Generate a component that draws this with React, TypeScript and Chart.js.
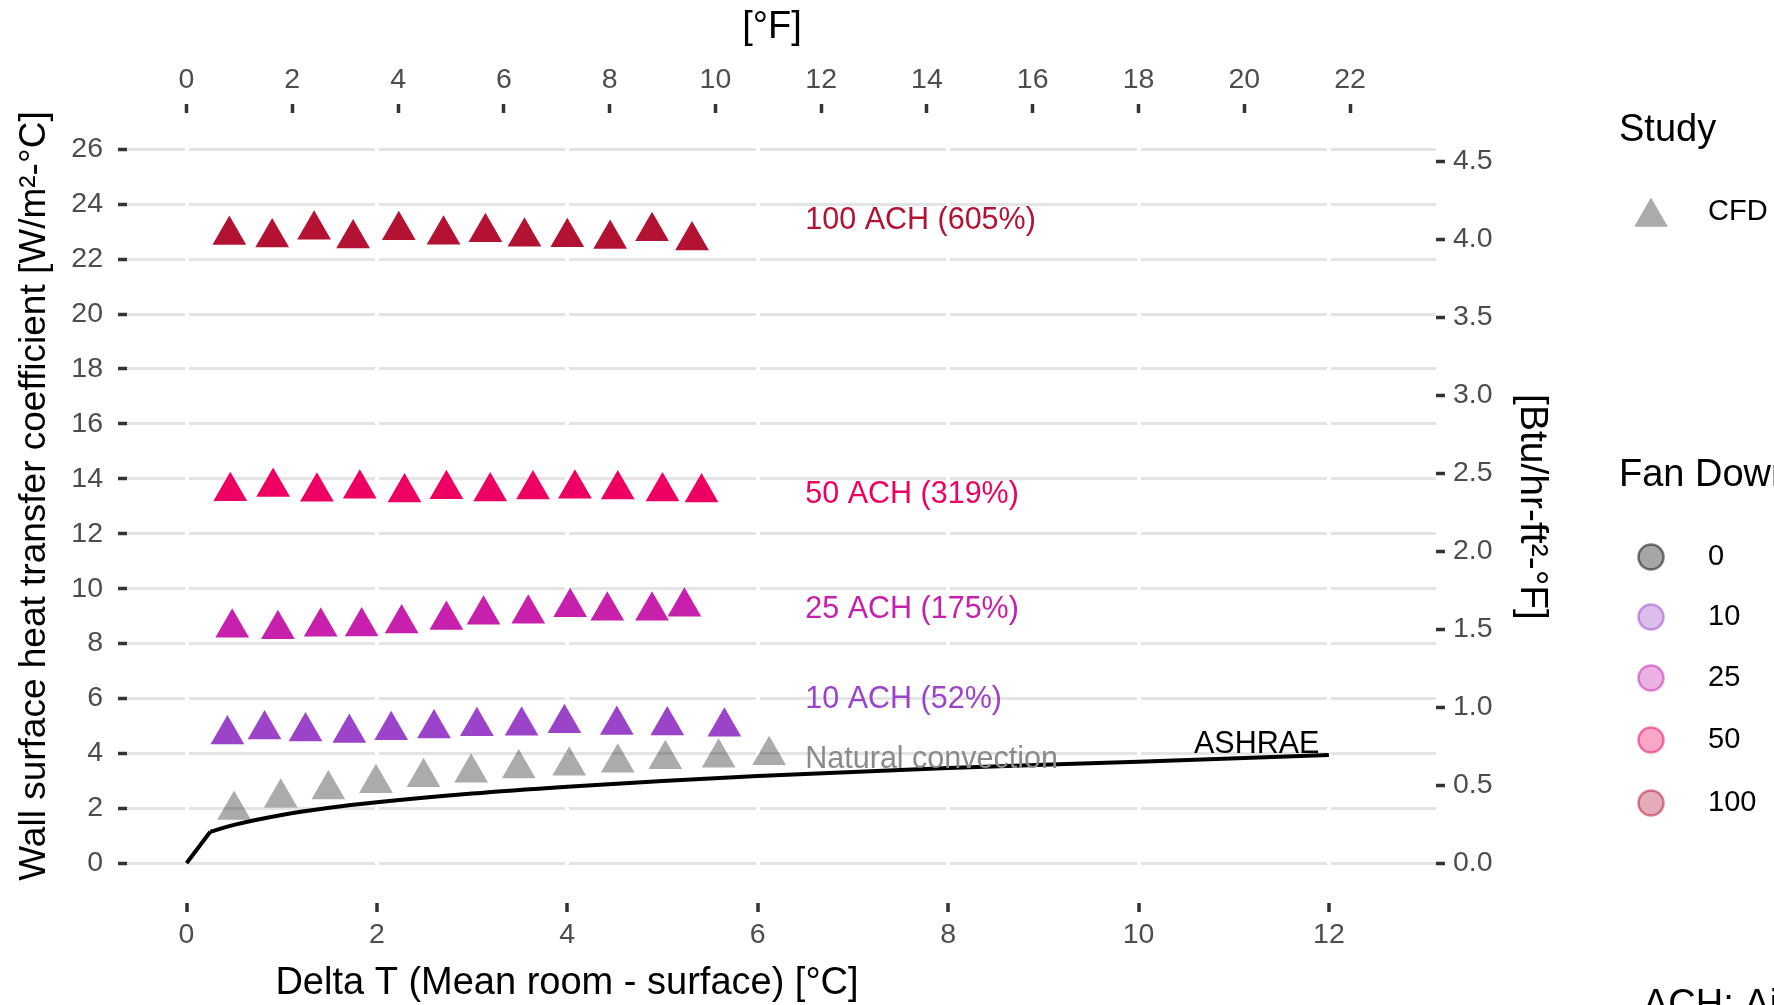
import React, { useEffect, useRef } from 'react';
import { Chart, registerables } from 'chart.js';
Chart.register(...registerables);

const W = 1774;
const H = 1005;
const FONT = '"Liberation Sans", Arial, Helvetica, sans-serif';

// ---- data (Delta T in °C, h in W/m²-°C) ----
const ach100X = [0.45, 0.90, 1.34, 1.75, 2.23, 2.70, 3.14, 3.55, 4.00, 4.45, 4.89, 5.31];
const ach100Y = [22.88, 22.79, 23.07, 22.75, 23.05, 22.89, 22.98, 22.81, 22.80, 22.73, 23.01, 22.68];
const ach50X = [0.46, 0.91, 1.37, 1.82, 2.29, 2.73, 3.19, 3.64, 4.08, 4.53, 5.00, 5.41];
const ach50Y = [13.55, 13.70, 13.53, 13.64, 13.50, 13.62, 13.54, 13.61, 13.64, 13.61, 13.54, 13.50];
const ach25X = [0.48, 0.96, 1.41, 1.84, 2.26, 2.73, 3.12, 3.59, 4.03, 4.42, 4.89, 5.23];
const ach25Y = [8.58, 8.52, 8.61, 8.62, 8.73, 8.86, 9.05, 9.09, 9.32, 9.20, 9.20, 9.34];
const ach10X = [0.43, 0.82, 1.25, 1.71, 2.15, 2.60, 3.05, 3.52, 3.97, 4.52, 5.05, 5.65];
const ach10Y = [4.69, 4.87, 4.80, 4.74, 4.84, 4.91, 4.99, 5.01, 5.10, 5.04, 5.02, 4.97];
const naturalX = [0.50, 0.99, 1.49, 1.99, 2.49, 2.99, 3.49, 4.02, 4.53, 5.03, 5.59, 6.12];
const naturalY = [1.94, 2.39, 2.69, 2.91, 3.13, 3.30, 3.45, 3.55, 3.66, 3.79, 3.84, 3.93];

const ashraeStartX = [0, 0.25];
const ashraeStartY = [0, 1.15];
const ashraeX = [0.25, 0.5, 1, 1.5, 2, 3, 4, 5, 6, 8, 10, 12];
const ashraeY = [1.15, 1.40, 1.76, 2.02, 2.22, 2.54, 2.79, 3.00, 3.18, 3.47, 3.70, 3.94];

const seriesColors = ['#b31233', '#ed0062', '#c620ad', '#9b44ca', 'rgba(0,0,0,0.33)'];

// annotations
const labelTexts = ['100 ACH (605%)', '50 ACH (319%)', '25 ACH (175%)', '10 ACH (52%)', 'Natural convection', 'ASHRAE'];
const labelX = [6.5, 6.5, 6.5, 6.5, 6.5, 11.9];
const labelY = [23.39, 13.41, 9.25, 5.96, 3.79, 4.32];
const labelColors = ['#b31233', '#ed0062', '#c620ad', '#9b44ca', '#8a8a8a', '#000000'];
const labelAlign = ['left', 'left', 'left', 'left', 'left', 'right'];

// ticks
const xTicks = [0, 2, 4, 6, 8, 10, 12];
const x2Ticks = [0, 2, 4, 6, 8, 10, 12, 14, 16, 18, 20, 22];
const yTicks = [0, 2, 4, 6, 8, 10, 12, 14, 16, 18, 20, 22, 24, 26];
const y2Ticks = [0, 0.5, 1, 1.5, 2, 2.5, 3, 3.5, 4, 4.5];

// legend
const studyLabels = ['CFD'];
const fanLevels = ['0', '10', '25', '50', '100'];
const fanLevelColors = [[0, 0, 0], [155, 68, 202], [198, 32, 173], [237, 0, 98], [179, 18, 51]];

const X_MIN = -0.625;
const X_MAX = 13.125;
const Y_MIN = -1.446;
const Y_MAX = 27.32;
const C_TO_F = 1.8;
const W_TO_BTU = 1 / 5.678;

const pts = (xs: number[], ys: number[]) => xs.map((x, i) => ({ x, y: ys[i] }));

function drawTri(ctx: CanvasRenderingContext2D, x: number, y: number, r: number, color: string) {
  ctx.beginPath();
  for (let k = 0; k < 3; k++) {
    const a = (k * 2 * Math.PI) / 3;
    const px = x + Math.sin(a) * r;
    const py = y - Math.cos(a) * r;
    if (k === 0) ctx.moveTo(px, py);
    else ctx.lineTo(px, py);
  }
  ctx.closePath();
  ctx.fillStyle = color;
  ctx.fill();
}

const textPlugin = {
  id: 'textPlugin',
  afterDatasetsDraw(chart: any) {
    const { ctx, scales } = chart;
    const xs = scales.x;
    const ys = scales.y;
    ctx.save();
    ctx.font = `30.5px ${FONT}`;
    ctx.textBaseline = 'middle';
    for (let i = 0; i < labelTexts.length; i++) {
      ctx.fillStyle = labelColors[i];
      ctx.textAlign = labelAlign[i] as CanvasTextAlign;
      ctx.fillText(labelTexts[i], xs.getPixelForValue(labelX[i]), ys.getPixelForValue(labelY[i]));
    }
    ctx.restore();
  },
  afterDraw(chart: any) {
    const { ctx } = chart;
    ctx.save();
    ctx.fillStyle = '#000';
    ctx.textBaseline = 'alphabetic';
    ctx.font = `38px ${FONT}`;
    ctx.textAlign = 'center';
    ctx.fillText('Delta T (Mean room - surface) [°C]', 567, 994);
    ctx.fillText('[°F]', 772, 38);

    ctx.save();
    ctx.translate(45, 496);
    ctx.rotate(-Math.PI / 2);
    ctx.font = `37px ${FONT}`;
    ctx.fillText('Wall surface heat transfer coefficient [W/m²-°C]', 0, 0);
    ctx.restore();

    ctx.save();
    ctx.translate(1521, 507);
    ctx.rotate(Math.PI / 2);
    ctx.font = `39px ${FONT}`;
    ctx.fillText('[Btu/hr-ft²-°F]', 0, 0);
    ctx.restore();

    // legend: Study
    ctx.textAlign = 'left';
    ctx.fillStyle = '#000';
    ctx.font = `38px ${FONT}`;
    ctx.fillText('Study', 1619, 141);
    drawTri(ctx, 1651, 217, 19.5, seriesColors[4]);
    ctx.fillStyle = '#000';
    ctx.font = `29px ${FONT}`;
    ctx.textBaseline = 'middle';
    ctx.fillText(studyLabels[0], 1708, 212);

    // legend: Fan
    ctx.textBaseline = 'alphabetic';
    ctx.font = `38px ${FONT}`;
    ctx.fillStyle = '#000';
    ctx.fillText('Fan Down ACH', 1619, 486);
    const ys = [557, 617, 678, 740, 803];
    ctx.font = `29px ${FONT}`;
    ctx.textBaseline = 'middle';
    for (let i = 0; i < fanLevels.length; i++) {
      const [r, g, b] = fanLevelColors[i];
      ctx.beginPath();
      ctx.arc(1651, ys[i], 12.5, 0, Math.PI * 2);
      ctx.fillStyle = `rgba(${r},${g},${b},0.35)`;
      ctx.fill();
      ctx.lineWidth = 2.5;
      ctx.strokeStyle = `rgba(${r},${g},${b},0.5)`;
      ctx.stroke();
      ctx.fillStyle = '#000';
      ctx.fillText(fanLevels[i], 1708, ys[i]);
    }

    ctx.textBaseline = 'alphabetic';
    ctx.font = `38px ${FONT}`;
    ctx.fillStyle = '#000';
    ctx.fillText('ACH: Air changes per hour', 1643, 1016);
    ctx.restore();
  },
};

const tickFont = { family: FONT, size: 28.5 };
const tickColor = '#4d4d4d';
const markColor = '#333333';

function makeTicks(values: number[]) {
  return (s: any) => {
    s.ticks = values.map((v) => ({ value: v }));
  };
}

export default function App() {
  const ref = useRef<HTMLCanvasElement>(null);
  useEffect(() => {
    const canvas = ref.current;
    if (!canvas) return;
    const triDs = (xs: number[], ys: number[], color: string) => ({
      type: 'scatter' as const,
      data: pts(xs, ys),
      pointStyle: 'triangle',
      pointRadius: 19.5,
      pointHoverRadius: 19.5,
      pointBackgroundColor: color,
      pointBorderWidth: 0,
      borderWidth: 0,
      showLine: false,
      xAxisID: 'x',
      yAxisID: 'y',
    });
    const chart = new Chart(canvas, {
      type: 'scatter',
      data: {
        datasets: [
          {
            type: 'line',
            data: pts(ashraeStartX, ashraeStartY),
            borderColor: '#000',
            borderWidth: 4,
            pointRadius: 0,
            tension: 0,
            xAxisID: 'x',
            yAxisID: 'y',
          } as any,
          {
            type: 'line',
            data: pts(ashraeX, ashraeY),
            borderColor: '#000',
            borderWidth: 4,
            pointRadius: 0,
            cubicInterpolationMode: 'monotone',
            xAxisID: 'x',
            yAxisID: 'y',
          } as any,
          triDs(ach100X, ach100Y, seriesColors[0]),
          triDs(ach50X, ach50Y, seriesColors[1]),
          triDs(ach25X, ach25Y, seriesColors[2]),
          triDs(ach10X, ach10Y, seriesColors[3]),
          triDs(naturalX, naturalY, seriesColors[4]),
        ] as any,
      },
      options: {
        animation: false,
        responsive: false,
        maintainAspectRatio: false,
        devicePixelRatio: 1,
        layout: { padding: 0 },
        plugins: { legend: { display: false }, tooltip: { enabled: false } },
        events: [],
        scales: {
          y: {
            type: 'linear',
            position: 'left',
            min: Y_MIN,
            max: Y_MAX,
            afterBuildTicks: makeTicks(yTicks),
            afterFit: (s: any) => { s.width = 127; },
            grid: { color: '#e4e4e4', lineWidth: 3, drawTicks: true, tickLength: 9, tickColor: markColor, tickWidth: 3.5 },
            border: { display: false },
            ticks: { font: tickFont, color: tickColor, padding: 15, autoSkip: false, callback: (v: any) => String(v) },
          },
          y2: {
            type: 'linear',
            position: 'right',
            min: Y_MIN * W_TO_BTU,
            max: Y_MAX * W_TO_BTU,
            afterBuildTicks: makeTicks(y2Ticks),
            afterFit: (s: any) => { s.width = W - 1436; },
            grid: { drawOnChartArea: false, drawTicks: true, tickLength: 9, tickColor: markColor, tickWidth: 3.5 },
            border: { display: false },
            ticks: { font: tickFont, color: tickColor, padding: 8, autoSkip: false, callback: (v: any) => Number(v).toFixed(1) },
          },
          x: {
            type: 'linear',
            position: 'bottom',
            min: X_MIN,
            max: X_MAX,
            afterBuildTicks: makeTicks(xTicks),
            afterFit: (s: any) => { s.height = H - 903; },
            grid: { color: '#ffffff', lineWidth: 4, drawTicks: true, tickLength: 9, tickColor: markColor, tickWidth: 3.5 },
            border: { display: false },
            ticks: { font: tickFont, color: tickColor, padding: 6.5, autoSkip: false, maxRotation: 0, callback: (v: any) => String(v) },
          },
          x2: {
            type: 'linear',
            position: 'top',
            min: X_MIN * C_TO_F,
            max: X_MAX * C_TO_F,
            afterBuildTicks: makeTicks(x2Ticks),
            afterFit: (s: any) => { s.height = 113; },
            grid: { drawOnChartArea: false, drawTicks: true, tickLength: 9, tickColor: markColor, tickWidth: 3.5 },
            border: { display: false },
            ticks: { font: tickFont, color: tickColor, padding: 7, autoSkip: false, maxRotation: 0, callback: (v: any) => String(v) },
          },
        } as any,
      },
      plugins: [textPlugin],
    });
    return () => chart.destroy();
  }, []);
  return (
    <div style={{ position: 'fixed', left: 0, top: 0, width: W, height: H, background: '#ffffff', overflow: 'hidden' }}>
      <canvas ref={ref} width={W} height={H} style={{ width: W, height: H, display: 'block' }} />
    </div>
  );
}
